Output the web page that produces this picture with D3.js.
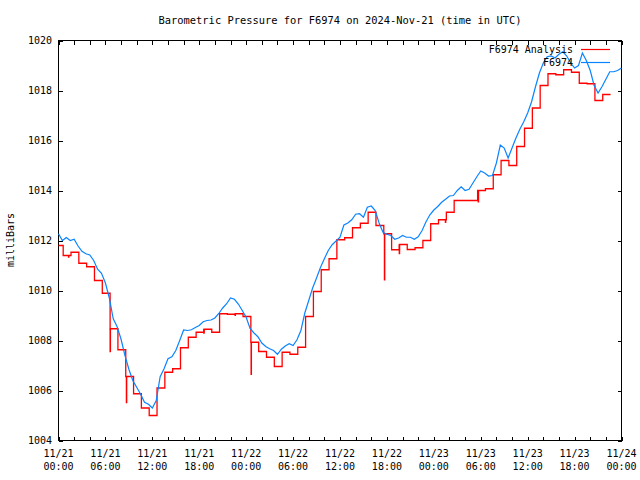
<!DOCTYPE html>
<html><head><meta charset="utf-8">
<script src="https://cdn.jsdelivr.net/npm/d3@7"></script>
<style>body{margin:0;background:#fff}</style>
</head><body><svg id="c" width="640" height="480"></svg>
<script>
const titleText = "Barometric Pressure for F6974 on 2024-Nov-21 (time in UTC)";
const yLabelText = "milliBars";
const yTickValues = [1004, 1006, 1008, 1010, 1012, 1014, 1016, 1018, 1020];
const xTickHours = [0,2,4,6,8,10,12,14,16,18,20,22,24,26,28,30,32,34,36,38,40,42,44,46,48,50,52,54,56,58,60,62,64,66,68,70,72];
const xLabelHours = [0, 6, 12, 18, 24, 30, 36, 42, 48, 54, 60, 66, 72];
const xLabelDates = ["11/21","11/21","11/21","11/21","11/22","11/22","11/22","11/22","11/23","11/23","11/23","11/23","11/24"];
const xLabelTimes = ["00:00","06:00","12:00","18:00","00:00","06:00","12:00","18:00","00:00","06:00","12:00","18:00","00:00"];
const seriesNames = ["F6974 Analysis", "F6974"];

// observations, one value every half hour from 11/21 00:00
const obsStepHours = 0.5;
const obsValues = [
 1012.27,1012.00,1012.12,1012.00,1012.05,1011.78,1011.57,1011.47,1011.42,1011.20,
 1010.85,1010.69,1010.30,1009.70,1008.87,1008.55,1008.05,1007.40,1006.85,1006.40,
 1006.13,1005.85,1005.53,1005.45,1005.30,1005.60,1006.55,1006.87,1007.27,1007.35,
 1007.60,1008.00,1008.42,1008.40,1008.43,1008.52,1008.60,1008.75,1008.80,1008.82,
 1008.90,1009.08,1009.30,1009.47,1009.70,1009.65,1009.46,1009.20,1008.93,1008.48,
 1008.30,1008.15,1007.90,1007.76,1007.67,1007.60,1007.45,1007.65,1007.78,1007.87,
 1007.80,1008.03,1008.40,1009.10,1009.60,1010.10,1010.50,1010.92,1011.27,1011.60,
 1011.83,1011.98,1012.13,1012.62,1012.70,1012.83,1013.05,1013.07,1012.93,1013.33,
 1013.38,1013.20,1012.70,1012.33,1012.25,1012.20,1012.05,1012.10,1012.20,1012.13,
 1012.13,1012.05,1012.15,1012.40,1012.75,1013.03,1013.22,1013.36,1013.53,1013.65,
 1013.78,1013.80,1014.00,1014.15,1014.00,1014.05,1014.30,1014.55,1014.78,1014.70,
 1014.58,1014.60,1015.10,1015.82,1015.70,1015.30,1015.70,1016.10,1016.45,1016.75,
 1017.10,1017.55,1018.15,1018.70,1019.10,1019.35,1019.38,1019.30,1019.45,1019.55,
 1019.38,1019.10,1018.90,1019.00,1019.50,1019.20,1018.80,1018.20,1017.90,1018.15,
 1018.45,1018.75,1018.75,1018.80,1018.90
];

// hourly analysis values; value i holds from hour i-0.4 to hour i+0.6
const analysisLagHours = 0.6;
const analysisValues = [
 1011.80,1011.40,1011.53,1011.09,1010.95,1010.40,1009.89,1008.47,1007.63,1006.56,
 1005.87,1005.30,1005.00,1006.10,1006.73,1006.87,1007.71,1008.13,1008.33,1008.45,
 1008.33,1009.07,1009.05,1009.07,1008.96,1007.93,1007.56,1007.33,1006.96,1007.53,
 1007.45,1007.73,1008.96,1009.96,1010.83,1011.27,1012.03,1012.11,1012.51,1012.69,
 1013.13,1012.60,1012.27,1011.63,1011.84,1011.64,1011.71,1012.00,1012.67,1012.83,
 1013.13,1013.60,1013.60,1013.60,1014.00,1014.07,1014.63,1015.20,1015.00,1015.76,
 1016.49,1017.30,1018.20,1018.67,1018.63,1018.83,1018.73,1018.29,1018.27,1017.60,
 1017.84
];
// short downward excursions of the analysis: [hour, value]
const analysisDipHours = [1.3, 6.62, 8.7, 18.6, 22.6, 24.65, 41.7, 43.6, 49.5, 53.7];
const analysisDipValues = [1011.31, 1007.53, 1005.49, 1008.27, 1008.98, 1006.62, 1010.40, 1011.45, 1012.70, 1013.52];

const W = 640, H = 480;
const svg = d3.select("#c");
const font = "'DejaVu Sans Mono', 'Liberation Mono', monospace";
const x = d3.scaleLinear().domain([0, 72]).range([58.5, 621.5]);
const y = d3.scaleLinear().domain([1004, 1020]).range([440.5, 40.5]);
const colRed = "#ff0000", colBlue = "#0a84ff";

// title
svg.append("text").attr("x", 340).attr("y", 24).attr("text-anchor", "middle")
  .attr("font-family", font).attr("font-size", "10.4px").text(titleText);
// y label
svg.append("text").attr("transform", "translate(14,240) rotate(-90)")
  .attr("text-anchor", "middle").attr("font-family", font).attr("font-size", "10px").text(yLabelText);

// axes ticks (inward, mirrored)
const tickStyle = g => { g.select(".domain").remove(); g.selectAll("line").attr("stroke", "#000").attr("shape-rendering", "crispEdges"); g.selectAll("text").remove(); };
svg.append("g").attr("transform", `translate(0,${y(1004)})`).call(d3.axisBottom(x).tickValues(xTickHours).tickSize(-4)).call(tickStyle);
svg.append("g").attr("transform", `translate(0,${y(1020)})`).call(d3.axisTop(x).tickValues(xTickHours).tickSize(-4)).call(tickStyle);
svg.append("g").attr("transform", `translate(${x(0)},0)`).call(d3.axisLeft(y).tickValues(yTickValues).tickSize(-4)).call(tickStyle);
svg.append("g").attr("transform", `translate(${x(72)},0)`).call(d3.axisRight(y).tickValues(yTickValues).tickSize(-4)).call(tickStyle);

// frame
svg.append("rect").attr("x", x(0)).attr("y", y(1020)).attr("width", x(72) - x(0)).attr("height", y(1004) - y(1020))
  .attr("fill", "none").attr("stroke", "#000").attr("shape-rendering", "crispEdges");

// tick labels
svg.append("g").selectAll("text").data(yTickValues).join("text")
  .attr("x", 52).attr("y", d => y(d)).attr("dy", "0.35em").attr("text-anchor", "end")
  .attr("font-family", font).attr("font-size", "10px").text(d => d);
const xl = svg.append("g").selectAll("g").data(xLabelHours).join("g");
xl.append("text").attr("x", d => x(d)).attr("y", 457).attr("text-anchor", "middle")
  .attr("font-family", font).attr("font-size", "10px").text((d, i) => xLabelDates[i]);
xl.append("text").attr("x", d => x(d)).attr("y", 470).attr("text-anchor", "middle")
  .attr("font-family", font).attr("font-size", "10px").text((d, i) => xLabelTimes[i]);

// analysis step line
const aPts = analysisValues.map((v, i) => [Math.max(0, i - 1 + analysisLagHours), v]);
aPts.push([analysisValues.length - 1 + analysisLagHours, analysisValues[analysisValues.length - 1]]);
const stepLine = d3.line().x(d => x(d[0])).y(d => y(d[1])).curve(d3.curveStepAfter);
svg.append("path").datum(aPts).attr("d", stepLine).attr("fill", "none").attr("stroke", colRed).attr("stroke-width", 1.3);
const analysisAt = h => { let v = analysisValues[0]; aPts.forEach(p => { if (p[0] <= h) v = p[1]; }); return v; };
svg.append("g").selectAll("line").data(analysisDipHours).join("line")
  .attr("x1", d => x(d)).attr("x2", d => x(d))
  .attr("y1", d => y(analysisAt(d))).attr("y2", (d, i) => y(analysisDipValues[i]))
  .attr("stroke", colRed).attr("stroke-width", 1.6);

// observations
const obsLine = d3.line().x((d, i) => x(i * obsStepHours)).y(d => y(d));
svg.append("path").datum(obsValues).attr("d", obsLine).attr("fill", "none").attr("stroke", colBlue).attr("stroke-width", 1.2);

// legend
const legY = [49, 62];
const leg = svg.append("g").selectAll("g").data(seriesNames).join("g");
leg.append("text").attr("x", 573).attr("y", (d, i) => legY[i]).attr("dy", "0.35em").attr("text-anchor", "end")
  .attr("font-family", font).attr("font-size", "10px").text(d => d);
leg.append("line").attr("x1", 581).attr("x2", 610).attr("y1", (d, i) => legY[i] + 0.5).attr("y2", (d, i) => legY[i] + 0.5)
  .attr("stroke", (d, i) => i === 0 ? colRed : colBlue).attr("stroke-width", 1.2);
</script></body></html>
